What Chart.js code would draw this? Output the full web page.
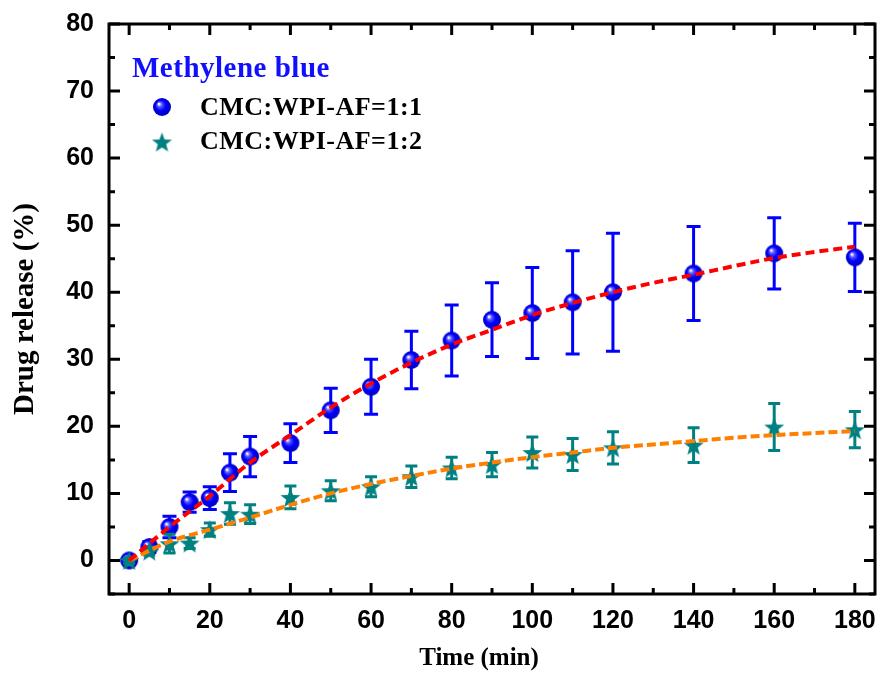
<!DOCTYPE html>
<html>
<head>
<meta charset="utf-8">
<title>Drug release - Methylene blue</title>
<script src="https://cdn.jsdelivr.net/npm/chart.js@4.4.1/dist/chart.umd.min.js"></script>
<style>
  html, body { margin: 0; padding: 0; background: #fff; }
  #wrap { width: 882px; height: 673px; position: relative; }
</style>
</head>
<body>
<div id="wrap"><canvas id="chart"></canvas></div>
<script>
'use strict';

// measured points (min, %), with +/- error
var timePoints = [0, 5, 10, 15, 20, 25, 30, 40, 50, 60, 70, 80, 90, 100, 110, 120, 140, 160, 180];
var release11 = [0, 2.0, 5.0, 8.7, 9.3, 13.1, 15.5, 17.5, 22.4, 25.9, 29.9, 32.8, 35.9, 36.9, 38.5, 40.0, 42.8, 45.8, 45.2];
var error11 = [0.5, 0.8, 1.6, 1.5, 1.7, 2.8, 3.0, 2.9, 3.3, 4.1, 4.3, 5.3, 5.5, 6.8, 7.7, 8.8, 7.0, 5.3, 5.1];
var release12 = [0, 1.4, 2.5, 2.6, 4.6, 7.0, 6.9, 9.4, 10.4, 11.0, 12.5, 13.8, 14.3, 16.1, 15.8, 16.8, 17.2, 19.9, 19.5];
var error12 = [0.4, 0.6, 1.4, 0.8, 1.0, 1.6, 1.4, 1.7, 1.5, 1.5, 1.6, 1.6, 1.8, 2.3, 2.4, 2.4, 2.6, 3.5, 2.7];

// fitted curves
var fitTime = [0, 10, 20, 30, 40, 50, 60, 70, 80, 90, 100, 110, 120, 130, 140, 150, 160, 170, 180];
var fit11 = [0, 5.0, 9.6, 14.6, 18.7, 22.8, 26.4, 29.5, 32.2, 34.4, 36.6, 38.4, 40.0, 41.4, 42.6, 43.9, 45.1, 46.0, 46.8];
var fit12 = [0, 2.8, 4.6, 6.4, 8.3, 10.0, 11.4, 12.6, 13.7, 14.6, 15.4, 16.1, 16.8, 17.3, 17.8, 18.3, 18.7, 19.0, 19.3];

var xTicks = [0, 20, 40, 60, 80, 100, 120, 140, 160, 180];
var xMinor = [10, 30, 50, 70, 90, 110, 130, 150, 170];
var yTicks = [0, 10, 20, 30, 40, 50, 60, 70, 80];
var yMinor = [-5, 5, 15, 25, 35, 45, 55, 65, 75];

var legendTitle = 'Methylene blue';
var seriesNames = ['CMC:WPI-AF=1:1', 'CMC:WPI-AF=1:2'];
var xTitle = 'Time (min)';

function toXY(xs, ys) {
    return xs.map(function(x, i) { return { x: x, y: ys[i] }; });
}

function makeBall(r) {
    var s = r * 2 + 2;
    var c = document.createElement('canvas');
    c.width = s; c.height = s;
    var g = c.getContext('2d');
    var grad = g.createRadialGradient(s / 2 - r * 0.35, s / 2 - r * 0.35, 0.5, s / 2, s / 2, r);
    grad.addColorStop(0, '#ffffff');
    grad.addColorStop(0.22, '#5a5aff');
    grad.addColorStop(0.55, '#0000ff');
    grad.addColorStop(1, '#0000c0');
    g.fillStyle = grad;
    g.beginPath();
    g.arc(s / 2, s / 2, r, 0, Math.PI * 2);
    g.fill();
    return c;
}

function makeStar(r, color) {
    var s = r * 2 + 2;
    var c = document.createElement('canvas');
    c.width = s; c.height = s;
    var g = c.getContext('2d');
    g.fillStyle = color;
    g.beginPath();
    for (var i = 0; i < 10; i++) {
        var rad = i % 2 === 0 ? r : r * 0.42;
        var a = -Math.PI / 2 + i * Math.PI / 5;
        var px = s / 2 + rad * Math.cos(a), py = s / 2 + 1 + rad * Math.sin(a);
        if (i === 0) g.moveTo(px, py); else g.lineTo(px, py);
    }
    g.closePath();
    g.fill();
    return c;
}

var ballImg = makeBall(9);
var starImg = makeStar(10.5, '#008080');

var errorBars = {
    id: 'errorBars',
    beforeDatasetDraw: function(chart, args) {
        var ds = chart.data.datasets[args.index];
        if (!ds.errors) return;
        var ctx = chart.ctx, xs = chart.scales.x, ys = chart.scales.y;
        ctx.save();
        ctx.strokeStyle = ds.errorColor;
        ctx.lineWidth = 3;
        ds.data.forEach(function(p, i) {
            var e = ds.errors[i];
            var px = xs.getPixelForValue(p.x);
            var top = ys.getPixelForValue(p.y + e);
            var bot = ys.getPixelForValue(p.y - e);
            ctx.beginPath();
            ctx.moveTo(px, top); ctx.lineTo(px, bot);
            ctx.moveTo(px - ds.capHalf, top); ctx.lineTo(px + ds.capHalf, top);
            ctx.moveTo(px - ds.capHalf, bot); ctx.lineTo(px + ds.capHalf, bot);
            ctx.stroke();
        });
        ctx.restore();
    }
};

// closed frame with inward ticks on all four sides
var frame = {
    id: 'frame',
    afterDatasetsDraw: function(chart) {
        var ctx = chart.ctx, a = chart.chartArea;
        var xs = chart.scales.x, ys = chart.scales.y;
        ctx.save();
        ctx.strokeStyle = '#000';
        ctx.lineWidth = 3;
        ctx.beginPath();
        function xt(v, len) {
            var px = xs.getPixelForValue(v);
            ctx.moveTo(px, a.bottom); ctx.lineTo(px, a.bottom - len);
            ctx.moveTo(px, a.top); ctx.lineTo(px, a.top + len);
        }
        function yt(v, len) {
            var py = ys.getPixelForValue(v);
            ctx.moveTo(a.left, py); ctx.lineTo(a.left + len, py);
            ctx.moveTo(a.right, py); ctx.lineTo(a.right - len, py);
        }
        xTicks.forEach(function(v) { xt(v, 11); });
        xMinor.forEach(function(v) { xt(v, 6); });
        yTicks.forEach(function(v) { yt(v, 11); });
        yMinor.forEach(function(v) { yt(v, 6); });
        ctx.stroke();
        ctx.strokeRect(a.left, a.top, a.right - a.left, a.bottom - a.top);
        ctx.restore();
    }
};

// legend inside the plot, plus the x title (sits a bit left of centre in the original)
var legendBox = {
    id: 'legendBox',
    afterDraw: function(chart) {
        var ctx = chart.ctx;
        ctx.save();
        ctx.textBaseline = 'alphabetic';
        ctx.fillStyle = '#1010ff';
        ctx.font = 'bold 29px "Liberation Serif"';
        ctx.letterSpacing = '0.5px';
        ctx.fillText(legendTitle, 132, 77);
        ctx.fillStyle = '#000';
        ctx.font = 'bold 26px "Liberation Serif"';
        ctx.fillText(seriesNames[0], 200, 115);
        ctx.fillText(seriesNames[1], 200, 149);
        ctx.drawImage(ballImg, 162 - ballImg.width / 2, 107 - ballImg.height / 2);
        ctx.drawImage(starImg, 162 - starImg.width / 2, 142 - starImg.height / 2);
        ctx.letterSpacing = '0px';
        ctx.font = 'bold 25px "Liberation Serif"';
        ctx.textAlign = 'center';
        ctx.fillText(xTitle, 479, 665);
        ctx.restore();
    }
};

var tickFont = { family: 'Liberation Sans', size: 25, weight: 'bold' };

new Chart(document.getElementById('chart'), {
    type: 'line',
    data: {
        datasets: [{
            label: 'fit 1:1',
            data: toXY(fitTime, fit11),
            borderColor: '#ff0000',
            borderWidth: 4,
            borderDash: [9, 5],
            pointRadius: 0,
            cubicInterpolationMode: 'monotone',
            fill: false,
            order: 0
        }, {
            label: 'fit 1:2',
            data: toXY(fitTime, fit12),
            borderColor: '#ff8000',
            borderWidth: 4,
            borderDash: [9, 4],
            pointRadius: 0,
            cubicInterpolationMode: 'monotone',
            fill: false,
            order: 0
        }, {
            label: seriesNames[1],
            data: toXY(timePoints, release12),
            errors: error12,
            errorColor: '#008080',
            capHalf: 6,
            showLine: false,
            pointStyle: starImg,
            order: 1
        }, {
            label: seriesNames[0],
            data: toXY(timePoints, release11),
            errors: error11,
            errorColor: '#0000ff',
            capHalf: 7,
            showLine: false,
            pointStyle: ballImg,
            order: 2
        }]
    },
    options: {
        responsive: true,
        maintainAspectRatio: false,
        animation: false,
        layout: { padding: { top: 24, right: 7, left: 0, bottom: 0 } },
        plugins: {
            legend: { display: false },
            tooltip: { enabled: false }
        },
        scales: {
            x: {
                type: 'linear',
                min: -5,
                max: 185,
                afterBuildTicks: function(s) { s.ticks = xTicks.map(function(v) { return { value: v }; }); },
                afterFit: function(s) { s.height = 79; s.paddingLeft = 0; s.paddingRight = 0; },
                grid: { display: false, drawTicks: false },
                border: { display: false },
                ticks: { font: tickFont, color: '#000', padding: 12, maxRotation: 0, autoSkip: false },
                title: { display: false }
            },
            y: {
                type: 'linear',
                min: -5,
                max: 80,
                afterBuildTicks: function(s) { s.ticks = yTicks.map(function(v) { return { value: v }; }); },
                afterFit: function(s) { s.width = 109; s.paddingTop = 0; s.paddingBottom = 0; },
                grid: { display: false, drawTicks: false },
                border: { display: false },
                ticks: { font: tickFont, color: '#000', padding: 15, autoSkip: false },
                title: { display: true, text: 'Drug release (%)', font: { family: 'Liberation Serif', size: 29, weight: 'bold' }, color: '#000', padding: { top: 8, bottom: 0 } }
            }
        }
    },
    plugins: [errorBars, frame, legendBox]
});
</script>
</body>
</html>
